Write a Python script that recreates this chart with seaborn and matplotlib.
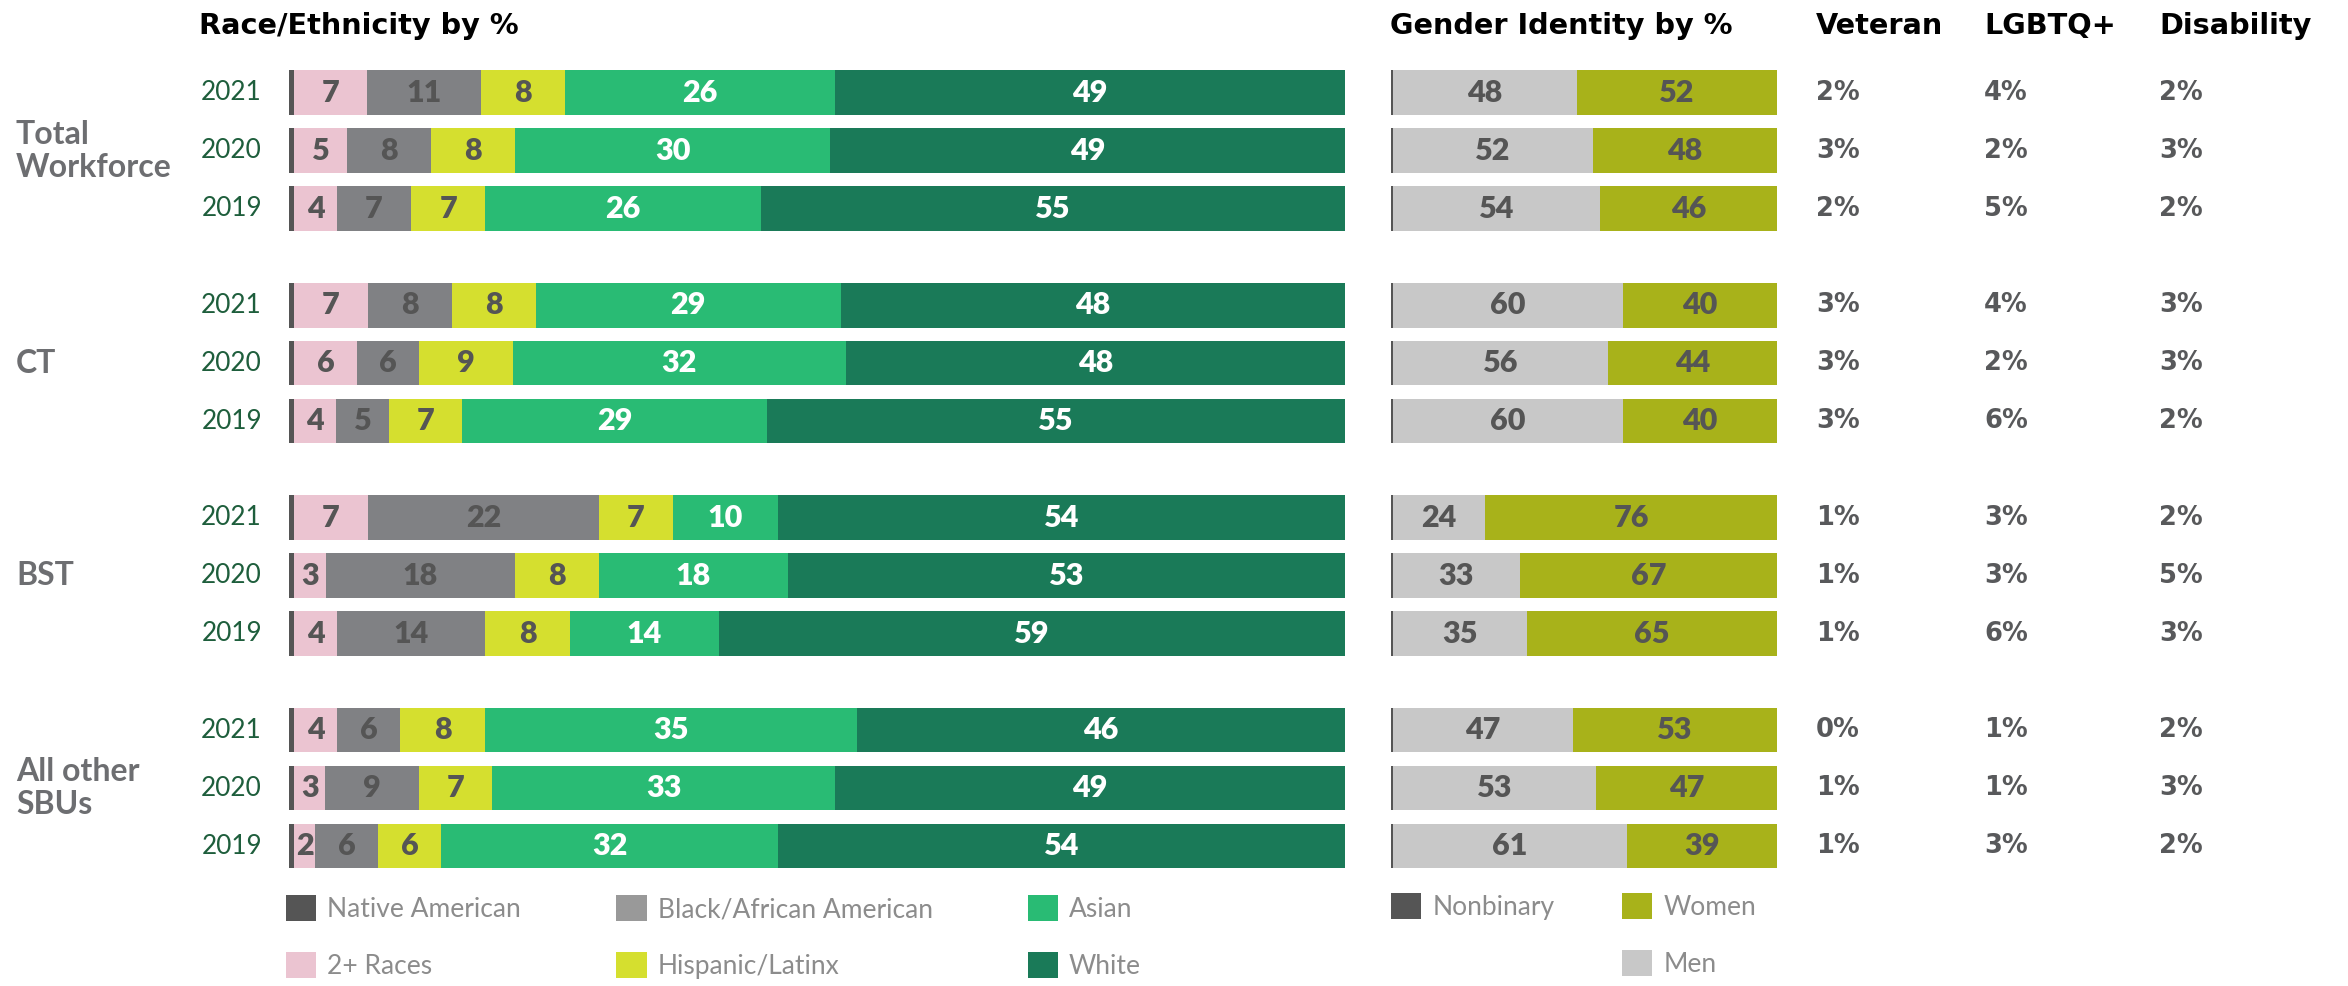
import numpy as np
import pandas as pd
import matplotlib
matplotlib.use("Agg")
import matplotlib.pyplot as plt
import seaborn as sns
from matplotlib.transforms import blended_transform_factory
from matplotlib.patches import Patch

# ---------------- data ----------------
groups = ["Total\nWorkforce", "CT", "BST", "All other\nSBUs"]
years = ["2021", "2020", "2019"]

race_cats = ["Native American", "2+ Races", "Black/African American",
             "Hispanic/Latinx", "Asian", "White"]
native_american = [0.5] * 12
two_plus_races = [7, 5, 4, 7, 6, 4, 7, 3, 4, 4, 3, 2]
black = [11, 8, 7, 8, 6, 5, 22, 18, 14, 6, 9, 6]
hispanic = [8, 8, 7, 8, 9, 7, 7, 8, 8, 8, 7, 6]
asian = [26, 30, 26, 29, 32, 29, 10, 18, 14, 35, 33, 32]
white = [49, 49, 55, 48, 48, 55, 54, 53, 59, 46, 49, 54]

gender_cats = ["Nonbinary", "Men", "Women"]
nonbinary = [0.5] * 12
men = [48, 52, 54, 60, 56, 60, 24, 33, 35, 47, 53, 61]
women = [52, 48, 46, 40, 44, 40, 76, 67, 65, 53, 47, 39]

column_titles = ["Veteran", "LGBTQ+", "Disability"]
veteran = ["2%", "3%", "2%", "3%", "3%", "3%", "1%", "1%", "1%", "0%", "1%", "1%"]
lgbtq = ["4%", "2%", "5%", "4%", "2%", "6%", "3%", "3%", "6%", "1%", "1%", "3%"]
disability = ["2%", "3%", "2%", "3%", "3%", "2%", "2%", "5%", "3%", "2%", "3%", "2%"]

# ---------------- style ----------------
race_colors = ["#555555", "#ebc4d1", "#808184", "#d5df2f", "#29bb74", "#1a7a58"]
race_legend_colors = ["#555555", "#ebc4d1", "#999999", "#d5df2f", "#29bb74", "#1a7a58"]
race_label_colors = [None, "#555555", "#555555", "#555555", "white", "white"]
gender_colors = ["#555555", "#c8c8c8", "#a8b21a"]
gender_label_colors = [None, "#555555", "#555555"]

sns.set_theme(style="white")
plt.rcParams["font.family"] = ["Lato", "DejaVu Sans"]
HEAD_FONT = ["DejaVu Sans"]

W, H = 2348, 986
fig = plt.figure(figsize=(W / 100, H / 100), dpi=100)

GROUP_GAP = 0.667
BAR_H = 0.77
ypos = [g * (3 + GROUP_GAP) + i for g in range(len(groups)) for i in range(len(years))]
ytop, ybot = -0.6, ypos[-1] + 0.6
PX_TOP, PX_BOT = 58.0, 880.8


def fx(px):
    return px / W


ax_r = fig.add_axes([fx(289), 1 - PX_BOT / H, fx(1056), (PX_BOT - PX_TOP) / H])
ax_g = fig.add_axes([fx(1391), 1 - PX_BOT / H, fx(386), (PX_BOT - PX_TOP) / H])


def stacked(ax, series, colors, label_colors, size):
    vals = np.array(series, dtype=float)
    shares = vals / vals.sum(axis=0) * 100
    cum = shares.cumsum(axis=0)
    for k in range(len(series) - 1, -1, -1):
        df = pd.DataFrame({"y": ypos, "x": cum[k]})
        sns.barplot(data=df, x="x", y="y", orient="h", native_scale=True,
                    color=colors[k], saturation=1, width=BAR_H, linewidth=0,
                    errorbar=None, ax=ax)
    for k in range(len(series)):
        if label_colors[k] is None:
            continue
        for j, y in enumerate(ypos):
            ax.text(cum[k][j] - shares[k][j] / 2, y, f"{series[k][j]:g}",
                    ha="center", va="center", color=label_colors[k],
                    fontsize=size, fontweight="heavy")
    ax.set_xlim(0, 100)
    ax.set_ylim(ybot, ytop)
    ax.axis("off")


stacked(ax_r, [native_american, two_plus_races, black, hispanic, asian, white],
        race_colors, race_label_colors, 22)
stacked(ax_g, [nonbinary, men, women], gender_colors, gender_label_colors, 22)

tr = blended_transform_factory(fig.transFigure, ax_r.transData)

# year labels
for j, y in enumerate(ypos):
    fig.text(fx(262), y, years[j % 3], transform=tr, ha="right", va="center",
             color="#1e5e3c", fontsize=18.8)

# group labels
for g, name in enumerate(groups):
    fig.text(fx(16), g * (3 + GROUP_GAP) + 1, name, transform=tr, ha="left",
             va="center", color="#6d6e71", fontsize=23, fontweight="bold",
             linespacing=1.15)

# headers
hy = 1 - 26 / H
fig.text(fx(199), hy, "Race/Ethnicity by %", ha="left", va="center",
         fontsize=20.7, fontweight="bold", color="black", family=HEAD_FONT)
fig.text(fx(1390), hy, "Gender Identity by %", ha="left", va="center",
         fontsize=20.7, fontweight="bold", color="black", family=HEAD_FONT)
col_x = [1816, 1984, 2159]
for cx, title, vals in zip(col_x, column_titles, [veteran, lgbtq, disability]):
    fig.text(fx(cx), hy, title, ha="left", va="center", fontsize=20.7,
             fontweight="bold", color="black", family=HEAD_FONT)
    for j, y in enumerate(ypos):
        fig.text(fx(cx), y, vals[j], transform=tr, ha="left", va="center",
                 fontsize=18.5, fontweight="bold", color="#58595b",
                 family=HEAD_FONT)

# legends
leg_kw = dict(frameon=False, loc="upper left", borderpad=0, borderaxespad=0,
              handlelength=1.15, handleheight=1.15, handletextpad=0.42,
              labelspacing=1.13,
              prop={"size": 19, "weight": "normal"}, labelcolor="#8c8c8c")
race_handles = [Patch(facecolor=c, edgecolor="none") for c in race_legend_colors]
fig.legend(race_handles, race_cats, ncol=3, columnspacing=3.6,
           bbox_to_anchor=(fx(286), 1 - 895 / H), **leg_kw)

g_handles = [Patch(facecolor=gender_colors[0], edgecolor="none"),
             Patch(facecolor="none", edgecolor="none"),
             Patch(facecolor=gender_colors[2], edgecolor="none"),
             Patch(facecolor=gender_colors[1], edgecolor="none")]
g_labels = ["Nonbinary", "", "Women", "Men"]
fig.legend(g_handles, g_labels, ncol=2, columnspacing=2.55,
           bbox_to_anchor=(fx(1391), 1 - 893 / H), **leg_kw)

fig.savefig("out.png", dpi=100)
